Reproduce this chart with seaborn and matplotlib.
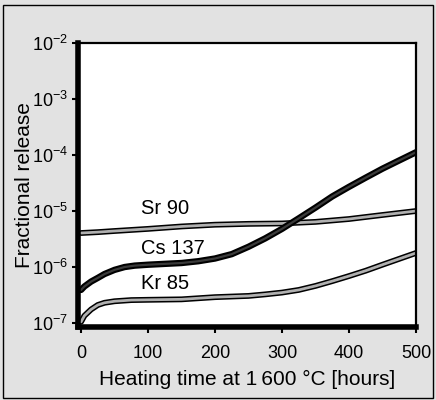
import numpy as np
import pandas as pd
import matplotlib
matplotlib.use("Agg")
import matplotlib.pyplot as plt
import matplotlib.patheffects as pe
from matplotlib.ticker import FixedLocator, FuncFormatter, NullLocator
import seaborn as sns

# ---- data ----
sr_hours = [0, 25, 50, 100, 150, 200, 250, 300, 350, 400, 450, 500]
sr_release = [4.05e-6, 4.2e-6, 4.4e-6, 4.8e-6, 5.3e-6, 5.7e-6, 5.9e-6, 6.0e-6, 6.4e-6, 7.2e-6, 8.5e-6, 1.0e-5]

cs_hours = [0, 5, 15, 25, 35, 50, 65, 80, 100, 150, 175, 200, 225, 250, 275, 300, 325, 350,
            375, 400, 425, 450, 475, 500]
cs_release = [3.9e-7, 4.5e-7, 5.5e-7, 6.4e-7, 7.5e-7, 8.9e-7, 1.0e-6, 1.06e-6, 1.1e-6, 1.18e-6,
              1.27e-6, 1.42e-6, 1.7e-6, 2.3e-6, 3.25e-6, 4.8e-6, 7.4e-6, 1.15e-5,
              1.82e-5, 2.7e-5, 3.94e-5, 5.7e-5, 8.0e-5, 1.12e-4]

kr_hours = [0, 5, 15, 25, 35, 50, 75, 100, 150, 200, 250, 275, 300, 325, 350, 375, 400, 425, 450, 475, 500]
kr_release = [1.05e-7, 1.35e-7, 1.75e-7, 2.1e-7, 2.3e-7, 2.45e-7, 2.57e-7, 2.6e-7, 2.65e-7, 2.9e-7,
              3.05e-7, 3.25e-7, 3.5e-7, 3.9e-7, 4.6e-7, 5.6e-7, 6.9e-7, 8.6e-7, 1.1e-6, 1.4e-6, 1.78e-6]

series_labels = ["Sr 90", "Cs 137", "Kr 85"]
x_ticks = [0, 100, 200, 300, 400, 500]
y_ticks = [1e-7, 1e-6, 1e-5, 1e-4, 1e-3, 1e-2]
x_label = "Heating time at 1\u2009600 \u00b0C [hours]"
y_label = "Fractional release"

sns.set_style("ticks")
plt.rcParams["font.family"] = ["Liberation Sans", "DejaVu Sans"]
plt.rcParams["mathtext.fontset"] = "custom"
plt.rcParams["mathtext.rm"] = "Liberation Sans"
plt.rcParams["mathtext.it"] = "Liberation Sans:italic"
plt.rcParams["mathtext.default"] = "regular"
for k in ["text.color", "axes.labelcolor", "xtick.color", "ytick.color"]:
    plt.rcParams[k] = "black"

fig = plt.figure(figsize=(4.36, 4.0), dpi=100, facecolor="#e2e2e2")
ax = fig.add_axes([0.179, 0.1825, 0.775, 0.71])
ax.set_facecolor("white")

df = pd.concat([
    pd.DataFrame({"hours": sr_hours, "release": sr_release, "nuclide": series_labels[0]}),
    pd.DataFrame({"hours": cs_hours, "release": cs_release, "nuclide": series_labels[1]}),
    pd.DataFrame({"hours": kr_hours, "release": kr_release, "nuclide": series_labels[2]}),
])

styles = {
    "Sr 90": ("#b0b0b0", 4.2, 2.0),
    "Cs 137": ("#3a3a3a", 4.6, 1.6),
    "Kr 85": ("#b0b0b0", 4.2, 2.0),
}
for name in series_labels:
    sub = df[df["nuclide"] == name]
    col, outer, inner = styles[name]
    sns.lineplot(data=sub, x="hours", y="release", ax=ax, color=col,
                 linewidth=inner, estimator=None, sort=False, legend=False,
                 path_effects=[pe.Stroke(linewidth=outer, foreground="black"), pe.Normal()])

ax.set_yscale("log")
ax.set_xlim(-4.5, 500)
ax.set_ylim(8.5e-8, 1e-2)
ax.xaxis.set_major_locator(FixedLocator(x_ticks))
ax.yaxis.set_major_locator(FixedLocator(y_ticks))
ax.yaxis.set_minor_locator(NullLocator())
ax.yaxis.set_major_formatter(FuncFormatter(lambda v, p: r"$10^{%d}$" % int(round(np.log10(v)))))
ax.xaxis.set_major_formatter(FuncFormatter(lambda v, p: "%d" % v))

for s in ["left", "bottom"]:
    ax.spines[s].set_linewidth(4.0)
for s in ["top", "right"]:
    ax.spines[s].set_linewidth(1.6)
    ax.spines[s].set_visible(True)
for s in ax.spines.values():
    s.set_color("black")

ax.tick_params(axis="y", direction="out", length=4, width=1.5, labelsize=13, pad=3)
ax.tick_params(axis="x", direction="out", length=4, width=1.5, labelsize=13, pad=9)
ax.set_xlabel(x_label, fontsize=15, labelpad=6)
ax.set_ylabel(y_label, fontsize=15, labelpad=-1)

label_y = [1.12e-5, 2.1e-6, 5.0e-7]
for name, yy in zip(series_labels, label_y):
    ax.text(90, yy, name, fontsize=14.5, ha="left", va="center", color="black")

fig.patches.append(plt.Rectangle((0.008, 0.006), 0.984, 0.982, transform=fig.transFigure,
                                 fill=False, edgecolor="black", linewidth=1.0))

fig.savefig("out.png", dpi=100, facecolor=fig.get_facecolor())
